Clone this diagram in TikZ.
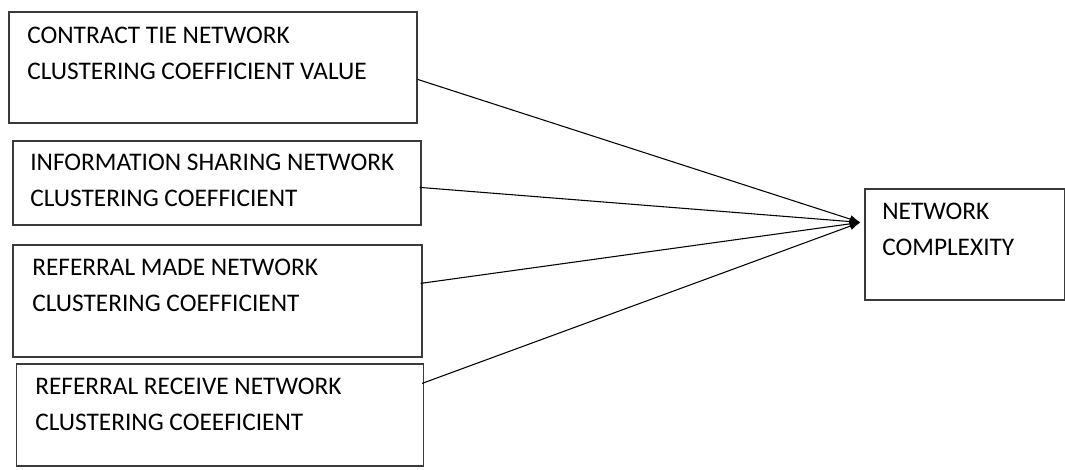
\documentclass[tikz,border=0pt]{standalone}
\usepackage{fontspec}
\setmainfont{Carlito}
\usepackage{tikz}
\usetikzlibrary{calc,arrows.meta}
\definecolor{ink}{HTML}{000000}
\definecolor{edge}{HTML}{3A3A3A}
\tikzset{
  box/.style={draw=edge, line width=0.9pt, rectangle, inner sep=0pt},
  lab/.style={text=ink, anchor=north west, align=left, inner sep=0pt,
    font=\fontsize{19}{27}\selectfont},
  link/.style={draw=ink, line width=0.8pt, -{Latex[length=8pt,width=6pt]}},
}
\begin{document}
\begin{tikzpicture}[x=0.75pt, y=-0.75pt]
  \useasboundingbox (0,0) rectangle (1065,470);
  % predictor boxes
  \node[box, minimum width=408*0.75pt, minimum height=111*0.75pt] (ct) at (213,67.5) {};
  \node[box, minimum width=408*0.75pt, minimum height=84*0.75pt] (is) at (217,183) {};
  \node[box, minimum width=409*0.75pt, minimum height=112*0.75pt] (rm) at (217.5,301) {};
  \node[box, minimum width=407*0.75pt, minimum height=102*0.75pt] (rr) at (220,415) {};
  % outcome box
  \node[box, minimum width=200*0.75pt, minimum height=111*0.75pt] (nc) at (965,244.5) {};
  \node[lab] (ctl) at (27,27) {CONTRACT TIE NETWORK\\CLUSTERING COEFFICIENT VALUE};
  \node[lab] (isl) at (30,154) {INFORMATION SHARING NETWORK\\CLUSTERING COEFFICIENT};
  \node[lab] (rml) at (32,259) {REFERRAL MADE NETWORK\\CLUSTERING COEFFICIENT};
  \node[lab] (rrl) at (35,378) {REFERRAL RECEIVE NETWORK\\CLUSTERING COEEFICIENT};
  \node[lab] (ncl) at (882,203) {NETWORK\\COMPLEXITY};
  \coordinate (hub) at ($(nc.north west)+(-4,34)$);
  \draw[link] ($(ct.north east)+(0,68)$) -- (hub);
  \draw[link] ($(is.north east)+(-2,47)$) -- (hub);
  \draw[link] ($(rm.north east)+(-2,39)$) -- (hub);
  \draw[link] ($(rr.north east)+(-2,20)$) -- (hub);
\end{tikzpicture}
\end{document}
